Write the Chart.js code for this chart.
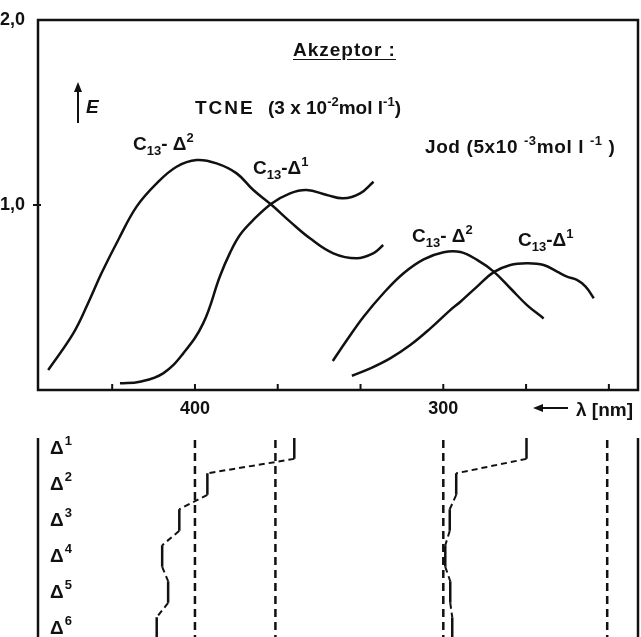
<!DOCTYPE html>
<html>
<head>
<meta charset="utf-8">
<script src="https://cdn.jsdelivr.net/npm/chart.js@4"></script>
<style>
  body { margin:0; background:#fff; width:641px; height:637px; overflow:hidden; position:relative;
         font-family:"Liberation Sans", Arial, sans-serif; font-weight:bold; color:#111; }
  canvas { position:absolute; left:0; }
  #spectra { top:0; }
  #shifts { top:420px; }
  .lbl { position:absolute; font-size:19px; line-height:1; white-space:nowrap; }
  .lbl sub { font-size:13px; vertical-align:-5px; line-height:0; }
  .lbl sup { font-size:13px; vertical-align:8px; line-height:0; }
</style>
</head>
<body>
<canvas id="spectra" width="641" height="425"></canvas>
<canvas id="shifts" width="641" height="217"></canvas>

<div class="lbl" style="left:293px;top:40px;text-decoration:underline;text-underline-offset:3px;letter-spacing:1px">Akzeptor :</div>
<div style="position:absolute;left:77px;top:90px;width:2px;height:33px;background:#111"></div>
<div style="position:absolute;left:74px;top:82px;border-left:4px solid transparent;border-right:4px solid transparent;border-bottom:10px solid #111"></div>
<div class="lbl" style="left:86px;top:97px;font-style:italic">E</div>
<div class="lbl" style="left:195px;top:98px;letter-spacing:2px">TCNE</div>
<div class="lbl" style="left:268px;top:98px">(3 x 10<sup>-2</sup>mol l<sup>-1</sup>)</div>
<div class="lbl" style="left:133px;top:134px">C<sub>13</sub>- &Delta;<sup>2</sup></div>
<div class="lbl" style="left:253px;top:158px">C<sub>13</sub>-&Delta;<sup>1</sup></div>
<div class="lbl" style="left:425px;top:137px;letter-spacing:0.6px">Jod (5x10 <sup>-3</sup>mol l <sup>-1</sup> )</div>
<div class="lbl" style="left:412px;top:226px">C<sub>13</sub>- &Delta;<sup>2</sup></div>
<div class="lbl" style="left:518px;top:230px">C<sub>13</sub>-&Delta;<sup>1</sup></div>
<div style="position:absolute;left:540px;top:407px;width:28px;height:2px;background:#111"></div>
<div style="position:absolute;left:533px;top:404px;border-top:4px solid transparent;border-bottom:4px solid transparent;border-right:10px solid #111"></div>
<div class="lbl" style="left:576px;top:400px">&lambda; [nm]</div>

<script>
// wavelength axis (nm), drawn reversed
const lambdaRange = [221.6, 463.2];
const lambdaTicks = [433.33, 400, 366.67, 333.33, 300, 266.67, 233.33];
const lambdaLabels = [400, 300];
const eTicks = [0, 1, 2];

// TCNE, C13-Δ2
const tcneD2Lambda = [459.1, 449.0, 443.0, 437.6, 430.9, 423.5, 415.4, 407.4, 399.3, 391.3, 383.2, 376.5, 369.1, 361.7, 353.7, 344.3, 334.9, 328.2, 324.2];
const tcneD2E = [0.108, 0.306, 0.470, 0.632, 0.811, 0.991, 1.117, 1.207, 1.243, 1.225, 1.171, 1.081, 1.000, 0.910, 0.820, 0.739, 0.712, 0.739, 0.784];
// TCNE, C13-Δ1
const tcneD1Lambda = [430.2, 422.2, 412.8, 404.7, 396.7, 389.9, 385.9, 381.9, 376.5, 369.1, 361.7, 355.0, 346.9, 340.3, 333.5, 328.1];
const tcneD1E = [0.036, 0.045, 0.090, 0.198, 0.360, 0.616, 0.741, 0.838, 0.919, 1.008, 1.063, 1.081, 1.054, 1.036, 1.063, 1.126];
// Jod, C13-Δ2
const jodD2Lambda = [344.5, 338.8, 332.1, 324.1, 316.0, 307.9, 299.9, 293.1, 286.4, 279.7, 273.0, 266.3, 259.6];
const jodD2E = [0.157, 0.270, 0.396, 0.523, 0.631, 0.706, 0.745, 0.746, 0.703, 0.640, 0.550, 0.459, 0.387];
// Jod, C13-Δ1
const jodD1Lambda = [336.8, 329.4, 321.4, 313.3, 305.2, 297.2, 293.1, 286.4, 279.7, 273.0, 266.3, 259.6, 254.2, 250.2, 246.2, 242.7, 239.4];
const jodD1E = [0.077, 0.117, 0.171, 0.243, 0.333, 0.432, 0.477, 0.559, 0.637, 0.676, 0.685, 0.676, 0.640, 0.613, 0.595, 0.559, 0.496];

// band maxima per double-bond position
const rows = ['Δ1', 'Δ2', 'Δ3', 'Δ4', 'Δ5', 'Δ6'];
const tcneShift = [360.0, 395.0, 406.3, 413.2, 410.8, 415.4];
const jodShift = [266.5, 294.8, 297.4, 299.2, 297.2, 296.4];
const refLambda = [400, 367.6, 300, 234];

const INK = '#111';
const FAMILY = '"Liberation Sans", Arial, sans-serif';
const tickFont = { family: FAMILY, weight: 'bold', size: 18 };

const pts = (xs, ys) => xs.map((x, i) => ({ x: x, y: ys[i] }));
const curve = (xs, ys) => ({
    data: pts(xs, ys), showLine: true, borderColor: INK, borderWidth: 2.5,
    pointRadius: 0, tension: 0.4, fill: false
});

// frame + inward ticks for the spectrum panel
const spectraFrame = {
    id: 'spectraFrame',
    afterDraw(chart) {
        const { ctx, chartArea: a, scales } = chart;
        ctx.save();
        ctx.strokeStyle = INK;
        ctx.lineWidth = 2.5;
        ctx.strokeRect(a.left, a.top, a.right - a.left, a.bottom - a.top);
        ctx.lineWidth = 2;
        scales.x.ticks.forEach(t => {
            const px = scales.x.getPixelForValue(t.value);
            ctx.beginPath(); ctx.moveTo(px, a.bottom); ctx.lineTo(px, a.bottom - 6); ctx.stroke();
        });
        const py = scales.y.getPixelForValue(1);
        ctx.beginPath(); ctx.moveTo(a.left - 5, py); ctx.lineTo(a.left + 3, py); ctx.stroke();
        ctx.restore();
    }
};

new Chart(document.getElementById('spectra'), {
    type: 'scatter',
    data: {
        datasets: [
            curve(tcneD2Lambda, tcneD2E),
            curve(tcneD1Lambda, tcneD1E),
            curve(jodD2Lambda, jodD2E),
            curve(jodD1Lambda, jodD1E)
        ]
    },
    options: {
        responsive: false,
        animation: false,
        layout: { padding: { top: 20, right: 3, left: 0, bottom: 0 } },
        plugins: { legend: { display: false }, tooltip: { enabled: false } },
        scales: {
            x: {
                type: 'linear', reverse: true, min: lambdaRange[0], max: lambdaRange[1],
                grid: { display: false }, border: { display: false },
                afterBuildTicks: s => { s.ticks = lambdaTicks.map(v => ({ value: v })); },
                afterFit: s => { s.height = 35; },
                ticks: {
                    color: INK, font: tickFont, padding: 0, maxRotation: 0, autoSkip: false,
                    callback: v => lambdaLabels.includes(v) ? String(v) : ''
                }
            },
            y: {
                min: 0, max: 2,
                grid: { display: false }, border: { display: false },
                afterBuildTicks: s => { s.ticks = eTicks.map(v => ({ value: v })); },
                afterFit: s => { s.width = 38; },
                ticks: {
                    color: INK, font: tickFont, padding: 5,
                    callback: v => v === 0 ? '' : v.toFixed(1).replace('.', ',')
                }
            }
        }
    },
    plugins: [spectraFrame]
});

// shift panel: vertical bar per row, dashed link to the next row
const half = 0.3;
const steps = vals => {
    const out = [];
    vals.forEach((v, i) => { out.push({ x: v, y: i + 1 - half }, { x: v, y: i + 1 + half }); });
    return out;
};
const stepLine = vals => ({
    data: steps(vals), showLine: true, borderColor: INK, borderWidth: 2.5,
    pointRadius: 0, tension: 0, fill: false,
    segment: {
        borderDash: c => c.p0DataIndex % 2 === 1 ? [6, 4] : undefined,
        borderWidth: c => c.p0DataIndex % 2 === 1 ? 2 : 2.5
    }
});

const shiftFrame = {
    id: 'shiftFrame',
    beforeDatasetsDraw(chart) {
        const { ctx, chartArea: a, scales } = chart;
        ctx.save();
        ctx.strokeStyle = INK;
        ctx.lineWidth = 2.5;
        [a.left, a.right].forEach(px => {
            ctx.beginPath(); ctx.moveTo(px, a.top); ctx.lineTo(px, a.bottom); ctx.stroke();
        });
        ctx.setLineDash([8, 5]);
        refLambda.forEach(v => {
            const px = scales.x.getPixelForValue(v);
            ctx.beginPath(); ctx.moveTo(px, a.top + 2); ctx.lineTo(px, a.bottom); ctx.stroke();
        });
        ctx.setLineDash([]);
        // row names: Δ with raised index
        ctx.fillStyle = INK;
        ctx.textBaseline = 'middle';
        rows.forEach((r, i) => {
            const py = scales.y.getPixelForValue(i + 1);
            const x0 = a.left + 12;
            ctx.font = 'bold 19px ' + FAMILY;
            ctx.fillText(r[0], x0, py + 1);
            const w = ctx.measureText(r[0]).width;
            ctx.font = 'bold 13px ' + FAMILY;
            ctx.fillText(r.slice(1), x0 + w + 1, py - 7);
        });
        ctx.restore();
    }
};

new Chart(document.getElementById('shifts'), {
    type: 'scatter',
    data: { datasets: [stepLine(tcneShift), stepLine(jodShift)] },
    options: {
        responsive: false,
        animation: false,
        layout: { padding: { top: 18, right: 3, left: 0, bottom: 0 } },
        plugins: { legend: { display: false }, tooltip: { enabled: false } },
        scales: {
            x: { type: 'linear', reverse: true, min: lambdaRange[0], max: lambdaRange[1], display: false },
            y: {
                reverse: true, min: 0.72, max: 6.25,
                grid: { display: false }, border: { display: false },
                afterFit: s => { s.width = 38; },
                ticks: { display: false }
            }
        }
    },
    plugins: [shiftFrame]
});
</script>
</body>
</html>
